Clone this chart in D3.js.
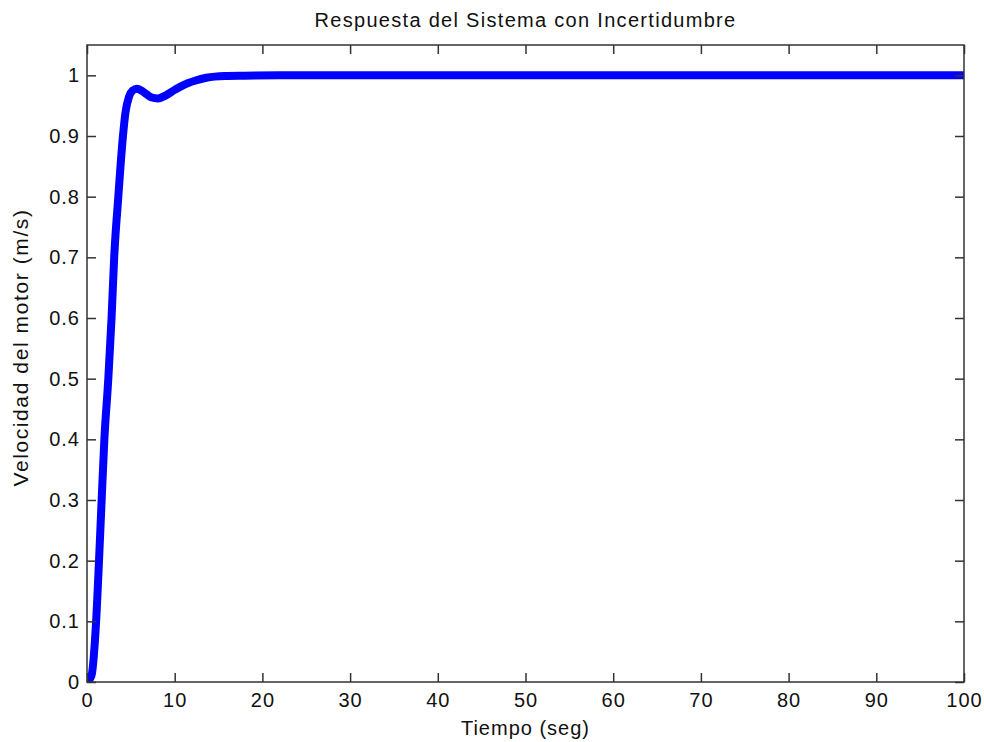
<!DOCTYPE html>
<html>
<head>
<meta charset="utf-8">
<script src="https://cdn.jsdelivr.net/npm/d3@7"></script>
<style>
  body { margin: 0; background: #fff; }
  svg { display: block; }
  text { font-family: "Liberation Sans", Arial, sans-serif; fill: #111; }
</style>
</head>
<body>
<svg id="chart"></svg>
<script>
CHART_WIDTH = 984;
CHART_HEIGHT = 742;
CHART_MARGIN = { top: 45, right: 20, bottom: 60, left: 87 };

// step response
var tiempo    = [0, 0.5, 1.0, 1.37, 1.67, 1.98, 2.43, 2.8, 3.1, 3.57, 4.1, 4.4, 4.8, 5.2, 5.7, 6.5, 7.3, 8.1, 9.0, 10.0, 11.0, 12.3, 13.6, 15.7, 18.0, 22.0, 100];
var velocidad = [0, 0.01, 0.09, 0.2, 0.3, 0.4, 0.5, 0.6, 0.7, 0.8, 0.9, 0.94, 0.965, 0.975, 0.978, 0.972, 0.964, 0.962, 0.967, 0.976, 0.984, 0.991, 0.996, 0.999, 0.9995, 1.0, 1.0];

var xTicks = d3.range(0, 101, 10);
var yTicks = d3.range(0, 11).map(function(i) { return i / 10; });
var yTickLabels = ["0", "0.1", "0.2", "0.3", "0.4", "0.5", "0.6", "0.7", "0.8", "0.9", "1"];

function buildChart() {
    var svg = d3.select("#chart")
        .attr("width", CHART_WIDTH)
        .attr("height", CHART_HEIGHT);
    var width = 964 - CHART_MARGIN.left;
    var height = 682 - CHART_MARGIN.top;

    var x = d3.scaleLinear().domain([0, 100]).range([0, width]);
    var y = d3.scaleLinear().domain([0, 1.05]).range([height, 0]);

    var g = svg.append("g")
        .attr("transform", "translate(" + CHART_MARGIN.left + "," + CHART_MARGIN.top + ")");

    g.append("defs").append("clipPath").attr("id", "clip")
        .append("rect").attr("width", width).attr("height", height);

    // the curve
    var line = d3.line()
        .x(function(d, i) { return x(tiempo[i]); })
        .y(function(d) { return y(d); })
        .curve(d3.curveMonotoneX);

    g.append("path")
        .datum(velocidad)
        .attr("clip-path", "url(#clip)")
        .attr("fill", "none")
        .attr("stroke", "#0000ff")
        .attr("stroke-width", 8)
        .attr("stroke-linejoin", "round")
        .attr("d", line);

    // box
    g.append("rect")
        .attr("width", width)
        .attr("height", height)
        .attr("fill", "none")
        .attr("stroke", "#333")
        .attr("stroke-width", 1.5);

    var tickLen = 9;

    // bottom + top ticks
    g.append("g")
        .attr("transform", "translate(0," + height + ")")
        .call(d3.axisBottom(x).tickValues(xTicks).tickSizeInner(-tickLen).tickSizeOuter(0).tickPadding(11).tickFormat(d3.format("d")));
    g.append("g")
        .call(d3.axisTop(x).tickValues(xTicks).tickSizeInner(-tickLen).tickSizeOuter(0).tickFormat(""));

    // left + right ticks
    g.append("g")
        .call(d3.axisLeft(y).tickValues(yTicks).tickSizeInner(-tickLen).tickSizeOuter(0).tickPadding(7)
            .tickFormat(function(d, i) { return yTickLabels[i]; }));
    g.append("g")
        .attr("transform", "translate(" + width + ",0)")
        .call(d3.axisRight(y).tickValues(yTicks).tickSizeInner(-tickLen).tickSizeOuter(0).tickFormat(""));

    g.selectAll(".domain").remove();
    g.selectAll(".tick line").attr("stroke", "#333").attr("stroke-width", 1.5);
    g.selectAll(".tick text")
        .style("font-size", "20px")
        .style("letter-spacing", "1px")
        .attr("fill", "#111");

    // title
    svg.append("text")
        .attr("x", CHART_MARGIN.left + width / 2)
        .attr("y", 27)
        .attr("text-anchor", "middle")
        .style("font-size", "20px")
        .style("letter-spacing", "1.3px")
        .text("Respuesta del Sistema con Incertidumbre");

    // x label
    svg.append("text")
        .attr("x", CHART_MARGIN.left + width / 2)
        .attr("y", 735)
        .attr("text-anchor", "middle")
        .style("font-size", "20px")
        .style("letter-spacing", "1px")
        .text("Tiempo (seg)");

    // y label
    svg.append("text")
        .attr("transform", "translate(28," + (CHART_MARGIN.top + height / 2 - 16) + ") rotate(-90)")
        .attr("text-anchor", "middle")
        .style("font-size", "21px")
        .style("letter-spacing", "1.6px")
        .text("Velocidad del motor (m/s)");
}

buildChart();
</script>
</body>
</html>
